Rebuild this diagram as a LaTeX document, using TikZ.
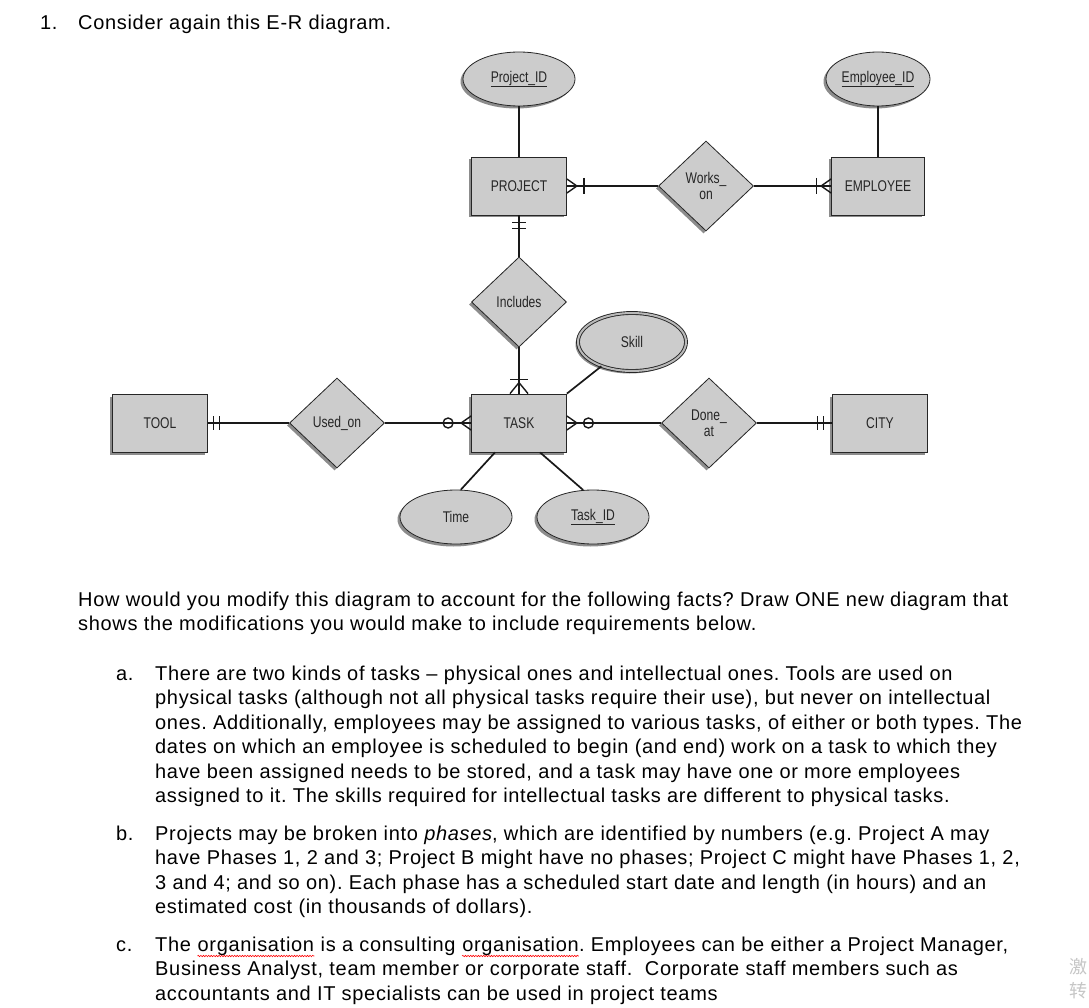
\documentclass[tikz,border=0pt]{standalone}
\usepackage{fontspec}
\setmainfont{Liberation Sans}
\newfontfamily\bodyfont[LetterSpace=3.4]{Liberation Sans}
\newfontfamily\erfont[FakeStretch=0.78]{Liberation Sans}
\newfontfamily\cjkfont{Noto Sans CJK SC}
\usetikzlibrary{shapes.geometric,shadows,calc,decorations.pathmorphing}
\tikzset{
  txt/.style={anchor=base west, inner sep=0pt, font=\bodyfont\frenchspacing\fontsize{20}{24}\selectfont},
  shp/.style={draw=black!85, line width=0.8pt, fill=gray!40, inner sep=0pt,
    font=\erfont\fontsize{15.5}{16.5}\selectfont, text=black!85, align=center,
    drop shadow={shadow xshift=-2.5pt, shadow yshift=-2.5pt, fill=black!50, opacity=0.9}},
  ent/.style={shp, rectangle, minimum width=95pt, minimum height=58pt},
  rel/.style={shp, diamond, minimum width=95pt, minimum height=90pt},
  attr/.style={shp, ellipse, minimum width=112pt, minimum height=54pt},
  multi/.style={draw=black!85, line width=0.9pt, double=gray!55, double distance=2pt},
  conn/.style={line width=1.7pt, black!90},
  card/.style={line width=1.4pt, black!90},
  wave/.style={red, line width=0.6pt, decorate, decoration={snake, amplitude=0.7pt, segment length=2.6pt}},
  wm/.style={anchor=base west, inner sep=0pt, text=gray!45, font=\cjkfont\fontsize{18}{20}\selectfont}
}
\begin{document}
\begin{tikzpicture}[x=1pt,y=1pt]
\useasboundingbox[fill=white] (0,0) rectangle (1089,-1008);

% ---------- diagram nodes ----------
\node[attr] (pid) at (519,-79) {\underline{Project\_ID}};
\node[attr, minimum width=104pt] (eid) at (878,-79) {\underline{Employee\_ID}};
\node[ent] (proj) at (519,-186) {PROJECT};
\node[rel] (works) at (706,-186) {Works\_\\on};
\node[ent, minimum width=93pt] (emp) at (878,-186) {EMPLOYEE};
\node[rel] (incl) at (519,-302) {Includes};
\node[attr, multi, minimum width=108pt, minimum height=58pt] (skill) at (632,-342) {Skill};
\node[ent] (task) at (519,-423) {TASK};
\node[ent] (tool) at (160,-423) {TOOL};
\node[rel] (used) at (337,-423) {Used\_on};
\node[rel] (done) at (709,-423) {Done\_\\at};
\node[ent] (city) at (880,-423) {CITY};
\node[attr] (time) at (456,-517) {Time};
\node[attr] (tid) at (593,-517) {\underline{Task\_ID}};

% ---------- connectors ----------
\draw[conn] (pid) -- (proj);
\draw[conn] (eid) -- (emp);
\draw[conn] (proj) -- (works);
\draw[conn] (works) -- (emp);
\draw[conn] (proj) -- (incl);
\draw[conn] (incl) -- (task);
\draw[conn] (skill) -- (task.north east);
\draw[conn] (tool) -- (used);
\draw[conn] (used) -- (task);
\draw[conn] (task) -- (done);
\draw[conn] (done) -- (city);
\draw[conn] ($(task.south)+(-24,0)$) -- (time.80);
\draw[conn] ($(task.south)+(21,0)$) -- (tid.110);

% ---------- cardinality marks ----------
% PROJECT side of Works_on: one or many
\draw[card] ($(proj.east)+(0,7)$) -- ($(proj.east)+(10,0)$) -- ($(proj.east)+(0,-7)$);
\draw[card] ($(proj.east)+(17,8)$) -- ($(proj.east)+(17,-8)$);
% EMPLOYEE side of Works_on: one or many
\draw[card] ($(emp.west)+(0,7)$) -- ($(emp.west)+(-10,0)$) -- ($(emp.west)+(0,-7)$);
\draw[card] ($(emp.west)+(-14.5,8)$) -- ($(emp.west)+(-14.5,-8)$);
% PROJECT side of Includes: exactly one
\draw[card] ($(proj.south)+(-7,-7)$) -- ($(proj.south)+(7,-7)$);
\draw[card] ($(proj.south)+(-7,-13)$) -- ($(proj.south)+(7,-13)$);
% TASK side of Includes: one or many
\draw[card] ($(task.north)+(-9,0)$) -- ($(task.north)+(0,11)$) -- ($(task.north)+(9,0)$);
\draw[card] ($(task.north)+(-9,14)$) -- ($(task.north)+(9,14)$);
% TOOL side of Used_on: exactly one
\draw[card] ($(tool.east)+(5.5,7)$) -- ($(tool.east)+(5.5,-7)$);
\draw[card] ($(tool.east)+(11.5,7)$) -- ($(tool.east)+(11.5,-7)$);
% TASK side of Used_on: zero or many
\draw[card] ($(task.west)+(0,7)$) -- ($(task.west)+(-10,0)$) -- ($(task.west)+(0,-7)$);
\draw[card] ($(task.west)+(-23,0)$) circle (5);
% TASK side of Done_at: zero or many
\draw[card] ($(task.east)+(0,7)$) -- ($(task.east)+(10,0)$) -- ($(task.east)+(0,-7)$);
\draw[card] ($(task.east)+(21.5,0)$) circle (5);
% CITY side of Done_at: exactly one
\draw[card] ($(city.west)+(-14.5,7)$) -- ($(city.west)+(-14.5,-7)$);
\draw[card] ($(city.west)+(-8.5,7)$) -- ($(city.west)+(-8.5,-7)$);

% ---------- text ----------
\node[txt] (n1) at (40,-30) {1.};
\node[txt] (q1) at (78,-30) {Consider again this E-R diagram.};
\node[txt] (h1) at (78,-606) {How would you modify this diagram to account for the following facts? Draw ONE new diagram that};
\node[txt] (h2) at (78,-630.5) {shows the modifications you would make to include requirements below.};

\node[txt] (la) at (116,-680) {a.};
\node[txt] (a1) at (155,-680) {There are two kinds of tasks \textendash{} physical ones and intellectual ones. Tools are used on};
\node[txt] (a2) at (155,-704.5) {physical tasks (although not all physical tasks require their use), but never on intellectual};
\node[txt] (a3) at (155,-729) {ones. Additionally, employees may be assigned to various tasks, of either or both types. The};
\node[txt] (a4) at (155,-753.5) {dates on which an employee is scheduled to begin (and end) work on a task to which they};
\node[txt] (a5) at (155,-778) {have been assigned needs to be stored, and a task may have one or more employees};
\node[txt] (a6) at (155,-802.5) {assigned to it. The skills required for intellectual tasks are different to physical tasks.};

\node[txt] (lb) at (116,-840) {b.};
\node[txt] (b1) at (155,-840) {Projects may be broken into \textit{phases}, which are identified by numbers (e.g. Project A may};
\node[txt] (b2) at (155,-864.5) {have Phases 1, 2 and 3; Project B might have no phases; Project C might have Phases 1, 2,};
\node[txt] (b3) at (155,-889) {3 and 4; and so on). Each phase has a scheduled start date and length (in hours) and an};
\node[txt] (b4) at (155,-913.5) {estimated cost (in thousands of dollars).};

\node[txt] (lc) at (116,-951) {c.};
\node[txt] (c1a) at (155,-951) {The\ \mbox{}};
\node[txt] (c1b) at (c1a.base east) {organisation};
\node[txt] (c1c) at (c1b.base east) {\ is a consulting\ \mbox{}};
\node[txt] (c1d) at (c1c.base east) {organisation};
\node[txt] (c1e) at (c1d.base east) {. Employees can be either a Project Manager,};
\node[txt] (c2) at (155,-975.5) {Business Analyst, team member or corporate staff.\ \ Corporate staff members such as};
\node[txt] (c3) at (155,-1000) {accountants and IT specialists can be used in project teams};
\draw[wave] ($(c1b.base west)+(0,-5)$) -- ($(c1b.base east)+(0,-5)$);
\draw[wave] ($(c1d.base west)+(0,-5)$) -- ($(c1d.base east)+(0,-5)$);

% ---------- watermark fragment ----------
\node[wm] (wm1) at (1069,-973) {激};
\node[wm] (wm2) at (1069,-997) {转};
\end{tikzpicture}
\end{document}
